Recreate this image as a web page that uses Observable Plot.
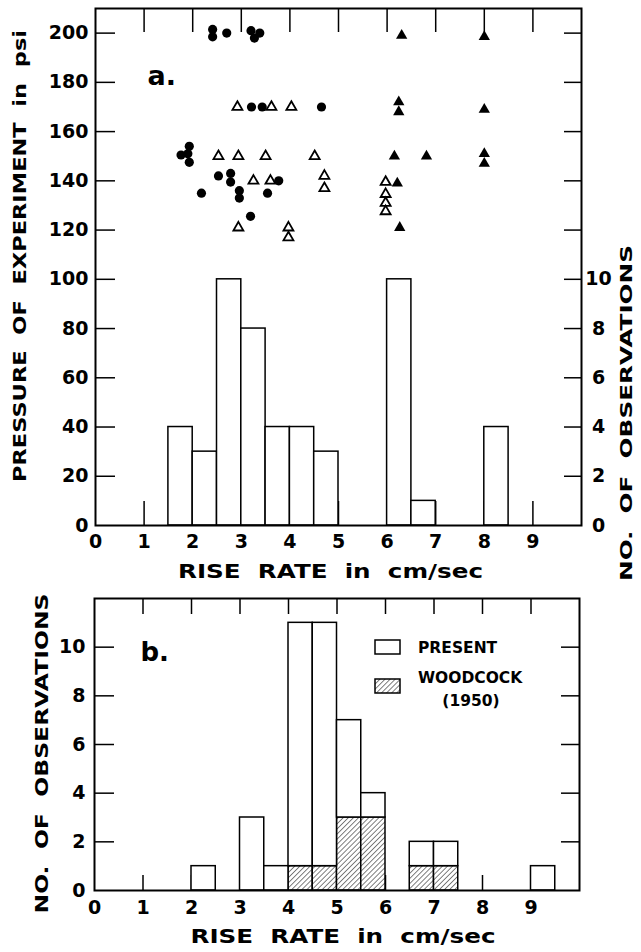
<!DOCTYPE html>
<html><head><meta charset="utf-8">
<script src="https://cdn.jsdelivr.net/npm/d3@7"></script>
<script src="https://cdn.jsdelivr.net/npm/@observablehq/plot@0.6"></script>
<style>
body{margin:0;background:#fff;}
#chart svg{display:block;font-family:"DejaVu Sans",sans-serif;font-weight:bold;font-size:19px;}
</style></head><body><div id="chart"></div>
<script>
// ---------- data ----------
const binWidth = 0.5;
// panel a histogram (right axis, no. of observations)
const binStartA = [1.5, 2, 2.5, 3, 3.5, 4, 4.5, 6, 6.5, 8];
const countA    = [4,   3, 10,  8, 4,   4, 3,   10, 1,   4];
// panel a scatter: filled circles
const circleX = [2.41, 2.41, 2.70, 3.20, 3.27, 3.38, 3.21, 3.43, 4.65, 1.76, 1.93, 1.93, 1.90, 2.53, 2.78, 2.78, 3.77, 2.18, 2.96, 2.96, 3.54, 3.19];
const circleY = [201.5, 198.5, 200, 201, 198, 200, 170, 170, 170, 150.5, 154, 147.5, 151, 142, 143, 139.5, 140, 135, 136, 133, 135, 125.6];
// open triangles
const openTriX = [2.92, 3.62, 4.03, 2.53, 2.94, 3.50, 4.51, 3.25, 3.60, 4.71, 4.71, 2.94, 3.97, 3.97, 5.97, 5.97, 5.97, 5.97];
const openTriY = [170, 170, 170, 150, 150, 150, 150, 140, 140, 142, 137, 121, 121, 117, 139.5, 134.6, 131, 127.6];
// filled triangles
const fillTriX = [6.30, 8.00, 6.24, 6.24, 8.00, 6.15, 6.81, 8.00, 8.00, 6.21, 6.26];
const fillTriY = [199, 198.5, 172, 168, 169, 150, 150, 151, 147, 139, 121];
// panel b histogram
const binStartB = [2, 3, 3.5, 4, 4.5, 5, 5.5, 6.5, 7, 9];
const presentB  = [1, 3, 1,   11, 11, 7, 4,   2,   2, 1];
const woodcockB = [0, 0, 0,   1,  1,  3, 3,   1,   1, 0];
// ticks
const xTicks = [0, 1, 2, 3, 4, 5, 6, 7, 8, 9];
const pressureTicks = [0, 20, 40, 60, 80, 100, 120, 140, 160, 180, 200];
const countTicks = [0, 2, 4, 6, 8, 10];
const psiPerCount = 10; // right axis of panel a: 1 observation = 10 on left scale
const titleX = "RISE  RATE  in  cm/sec";
const titleP = "PRESSURE  OF  EXPERIMENT  in  psi";
const titleN = "NO.  OF  OBSERVATIONS";

// ---------- tables ----------
const histA = binStartA.map((x, i) => ({x1: x, x2: x + binWidth, n: countA[i] * psiPerCount}));
const circles = circleX.map((x, i) => ({x, y: circleY[i]}));
const openTri = openTriX.map((x, i) => ({x, y: openTriY[i]}));
const fillTri = fillTriX.map((x, i) => ({x, y: fillTriY[i]}));
const histB = binStartB.map((x, i) => ({x1: x, x2: x + binWidth, p: presentB[i], w: woodcockB[i]}));

const hatchDefs = () => {
  const defs = d3.create("svg:defs");
  const p = defs.append("pattern").attr("id", "hatch").attr("patternUnits", "userSpaceOnUse")
    .attr("width", 3.6).attr("height", 3.6).attr("patternTransform", "rotate(45)");
  p.append("rect").attr("width", 3.6).attr("height", 3.6).attr("fill", "white");
  p.append("line").attr("x1", 0).attr("y1", 0).attr("x2", 0).attr("y2", 3.6)
    .attr("stroke", "black").attr("stroke-width", 1);
  return defs.node();
};

function setLength(svg, str, len) {
  svg.querySelectorAll("text").forEach(t => {
    if (t.textContent === str) { t.setAttribute("textLength", len); t.setAttribute("lengthAdjust", "spacingAndGlyphs"); }
  });
}

// ---------- panel a ----------
const plotA = Plot.plot({
  width: 641, height: 585,
  marginTop: 8, marginRight: 60, marginBottom: 60, marginLeft: 95,
  x: {domain: [0, 10], label: null},
  y: {domain: [0, 210], label: null},
  marks: [
    Plot.axisX(xTicks.slice(1), {anchor: "bottom", tickSize: -24, strokeWidth: 1.5, fill: "none", label: null}),
    Plot.axisX(xTicks.slice(1), {anchor: "top", tickSize: -23, strokeWidth: 1.5, fill: "none", label: null}),
    Plot.axisX(xTicks, {anchor: "bottom", tickSize: 0, tickPadding: 9, label: null, fontSize: 19}),
    Plot.axisY(pressureTicks.slice(1), {anchor: "left", tickSize: -20, strokeWidth: 1.5, fill: "none", label: null}),
    Plot.axisY(pressureTicks.slice(1), {anchor: "right", tickSize: -18, strokeWidth: 1.5, fill: "none", label: null}),
    Plot.axisY(pressureTicks, {anchor: "left", tickSize: 0, tickPadding: 7, label: null, fontSize: 19}),
    Plot.axisY(countTicks.map(c => c * psiPerCount), {anchor: "right", tickSize: 0, tickPadding: 17, textAnchor: "middle",
      tickFormat: d => String(d / psiPerCount), label: null, fontSize: 19}),
    Plot.rect(histA, {x1: "x1", x2: "x2", y1: 0, y2: "n", fill: "white", stroke: "black", strokeWidth: 1.5}),
    Plot.frame({stroke: "black", strokeWidth: 2}),
    Plot.dot(circles, {x: "x", y: "y", r: 4.6, fill: "black"}),
    Plot.dot(openTri, {x: "x", y: "y", symbol: "triangle", r: 3.7, fill: "white", stroke: "black", strokeWidth: 1.8}),
    Plot.dot(fillTri, {x: "x", y: "y", symbol: "triangle", r: 4.2, fill: "black"}),
    Plot.text(["a."], {text: d => d, frameAnchor: "top-left", dx: 52, dy: 76, textAnchor: "start", lineAnchor: "bottom", fontSize: 27}),
    Plot.text([titleX], {text: d => d, frameAnchor: "bottom", dx: -8, dy: 46, textAnchor: "middle", lineAnchor: "middle", fontSize: 19}),
    Plot.text([titleP], {text: d => d, frameAnchor: "left", dx: -75, dy: -11, rotate: -90, textAnchor: "middle", lineAnchor: "middle", fontSize: 18}),
    Plot.text([titleN], {text: d => d, frameAnchor: "right", dx: 45, dy: 146, rotate: -90, textAnchor: "middle", lineAnchor: "middle", fontSize: 16})
  ]
});
setLength(plotA, titleX, 305);
setLength(plotA, titleP, 452);
setLength(plotA, titleN, 336);

// ---------- panel b ----------
const legendB = () => {
  const g = d3.create("svg:g");
  g.append("rect").attr("x", 375).attr("y", 55).attr("width", 25).attr("height", 14)
    .attr("fill", "white").attr("stroke", "black").attr("stroke-width", 1.5);
  g.append("rect").attr("x", 375).attr("y", 94).attr("width", 25).attr("height", 14)
    .attr("fill", "url(#hatch)").attr("stroke", "black").attr("stroke-width", 1.5);
  const t = (x, y, s, a) => g.append("text").attr("x", x).attr("y", y).attr("dy", "0.36em")
    .attr("text-anchor", a).attr("font-size", 15.5).text(s);
  t(418, 62, "PRESENT", "start");
  t(418, 92, "WOODCOCK", "start");
  t(471, 115, "(1950)", "middle");
  return g.node();
};

const plotB = Plot.plot({
  width: 641, height: 367,
  marginTop: 13, marginRight: 62, marginBottom: 62, marginLeft: 94,
  x: {domain: [0, 10], label: null},
  y: {domain: [0, 12], label: null},
  marks: [
    hatchDefs,
    Plot.axisX(xTicks.slice(1), {anchor: "bottom", tickSize: -15, strokeWidth: 1.5, fill: "none", label: null}),
    Plot.axisX(xTicks.slice(1), {anchor: "top", tickSize: -15, strokeWidth: 1.5, fill: "none", label: null}),
    Plot.axisX(xTicks, {anchor: "bottom", tickSize: 0, tickPadding: 10, label: null, fontSize: 19}),
    Plot.axisY(countTicks.slice(1), {anchor: "left", tickSize: -20, strokeWidth: 1.5, fill: "none", label: null}),
    Plot.axisY(countTicks.slice(1), {anchor: "right", tickSize: -19, strokeWidth: 1.5, fill: "none", label: null}),
    Plot.axisY(countTicks, {anchor: "left", tickSize: 0, tickPadding: 9, label: null, fontSize: 19}),
    Plot.rect(histB.filter(d => d.w > 0), {x1: "x1", x2: "x2", y1: 0, y2: "w", fill: "url(#hatch)", stroke: "black", strokeWidth: 1.5}),
    Plot.rect(histB, {x1: "x1", x2: "x2", y1: "w", y2: "p", fill: "white", stroke: "black", strokeWidth: 1.5}),
    Plot.frame({stroke: "black", strokeWidth: 2}),
    legendB,
    Plot.text(["b."], {text: d => d, frameAnchor: "top-left", dx: 46, dy: 62, textAnchor: "start", lineAnchor: "bottom", fontSize: 26}),
    Plot.text([titleX], {text: d => d, frameAnchor: "bottom", dx: 6, dy: 46, textAnchor: "middle", lineAnchor: "middle", fontSize: 19}),
    Plot.text([titleN], {text: d => d, frameAnchor: "left", dx: -52, dy: 9, rotate: -90, textAnchor: "middle", lineAnchor: "middle", fontSize: 18})
  ]
});
setLength(plotB, titleX, 305);
setLength(plotB, titleN, 320);

document.getElementById("chart").append(plotA, plotB);
</script></body></html>
